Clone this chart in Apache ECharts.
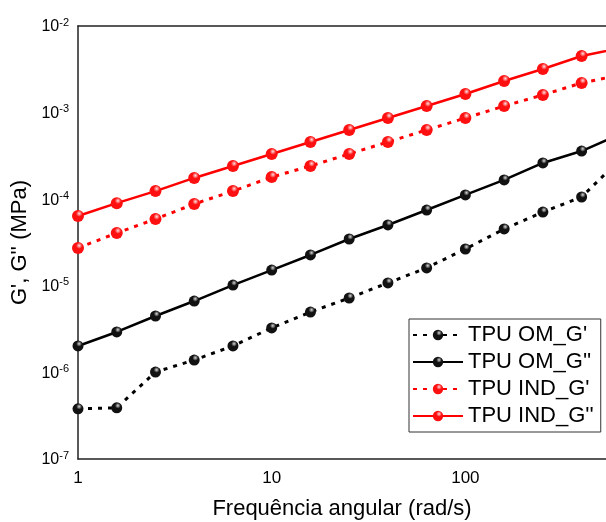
<!DOCTYPE html>
<html>
<head>
<meta charset="utf-8">
<script src="https://cdn.jsdelivr.net/npm/echarts@6/dist/echarts.min.js"></script>
<style>
  html, body { margin: 0; padding: 0; background: #fff; }
  #main { width: 606px; height: 522px; }
</style>
</head>
<body>
<div id="main"></div>
<script>
// frequência angular (rad/s)
var freq = [1, 1.585, 2.512, 3.981, 6.31, 10, 15.85, 25.12, 39.81, 63.1, 100, 158.5, 251.2, 398.1, 631];

// módulos (MPa)
var omG1 = [3.8e-7, 3.9e-7, 1.01e-6, 1.39e-6, 2.02e-6, 3.26e-6, 4.98e-6, 7.23e-6, 1.08e-5, 1.61e-5, 2.66e-5, 4.53e-5, 7.1e-5, 1.06e-4, 2.9e-4];
var omG2 = [2.02e-6, 2.93e-6, 4.48e-6, 6.67e-6, 1.02e-5, 1.52e-5, 2.27e-5, 3.47e-5, 5.04e-5, 7.5e-5, 1.12e-4, 1.67e-4, 2.62e-4, 3.6e-4, 5.66e-4];
var indG1 = [2.73e-5, 4.07e-5, 5.9e-5, 8.8e-5, 1.24e-4, 1.8e-4, 2.42e-4, 3.33e-4, 4.58e-4, 6.3e-4, 8.66e-4, 1.19e-3, 1.6e-3, 2.2e-3, 2.72e-3];
var indG2 = [6.4e-5, 9.0e-5, 1.24e-4, 1.76e-4, 2.42e-4, 3.33e-4, 4.58e-4, 6.3e-4, 8.66e-4, 1.19e-3, 1.64e-3, 2.32e-3, 3.19e-3, 4.5e-3, 5.57e-3];

var seriesNames = ["TPU OM_G'", "TPU OM_G''", "TPU IND_G'", "TPU IND_G''"];

var FONT = 'Liberation Sans, Arial, sans-serif';

function pares(ys) {
    return freq.map(function (x, i) { return [x, ys[i]]; });
}

// bolinhas "3D"
function bola(base, claro) {
    return new echarts.graphic.RadialGradient(0.6, 0.3, 0.75, [
        { offset: 0, color: claro },
        { offset: 0.35, color: base },
        { offset: 1, color: base }
    ]);
}
var bolaPreta = bola('#111', '#d8d8d8');
var bolaVermelha = bola('#ff1010', '#ffe0e0');

function serie(nome, ys, cor, bolaCor, tracejado, tam) {
    return {
        name: nome,
        type: 'line',
        data: pares(ys),
        symbol: 'circle',
        symbolSize: tam,
        showAllSymbol: true,
        clip: true,
        lineStyle: { color: cor, width: tracejado ? 3 : 2.5, type: tracejado ? [4, 6] : 'solid' },
        itemStyle: { color: bolaCor, borderWidth: 0 }
    };
}

var chartDom = document.getElementById('main');
var myChart = echarts.init(chartDom, null, { renderer: 'canvas' });

var option = {
    animation: false,
    backgroundColor: '#fff',
    grid: { left: 78, top: 26, right: 0, bottom: 63, containLabel: false, outerBoundsMode: 'none' },
    legend: {
        orient: 'vertical',
        left: 409,
        top: 319,
        itemWidth: 50,
        itemHeight: 13,
        itemGap: 5,
        padding: [5, 7, 5, 3],
        borderColor: '#333',
        borderWidth: 1,
        backgroundColor: '#fff',
        textStyle: { fontSize: 22, fontFamily: FONT, color: '#000', lineHeight: 22 },
        data: seriesNames
    },
    xAxis: [
        {
            type: 'log',
            logBase: 10,
            min: 1,
            max: 532,
            name: 'Frequência angular (rad/s)',
            nameLocation: 'middle',
            nameGap: 39,
            nameTextStyle: { fontSize: 22, fontFamily: FONT, color: '#000' },
            axisLine: { show: true, lineStyle: { color: '#222', width: 1.5 } },
            axisTick: { show: false },
            splitLine: { show: false },
            axisLabel: {
                margin: 11,
                fontSize: 17,
                fontFamily: FONT,
                color: '#000',
                showMaxLabel: false,
                formatter: function (v) { return String(Math.round(v)); }
            }
        },
        {
            type: 'log',
            logBase: 10,
            min: 1,
            max: 532,
            position: 'top',
            axisLine: { show: true, lineStyle: { color: '#222', width: 1.5 } },
            axisTick: { show: false },
            axisLabel: { show: false },
            splitLine: { show: false }
        }
    ],
    yAxis: {
        type: 'log',
        logBase: 10,
        min: 1e-7,
        max: 1e-2,
        name: "G', G'' (MPa)",
        nameLocation: 'middle',
        nameGap: 43,
        nameTextStyle: { fontSize: 22, fontFamily: FONT, color: '#000' },
        axisLine: { show: true, lineStyle: { color: '#222', width: 1.5 } },
        axisTick: { show: false },
        splitLine: { show: false },
        axisLabel: {
            margin: 9,
            color: '#000',
            fontFamily: FONT,
            formatter: function (v) {
                var e = Math.round(Math.log10(v));
                return '{b|10}{e|' + e + '}';
            },
            rich: {
                b: { fontSize: 16, fontFamily: FONT, color: '#000', verticalAlign: 'bottom' },
                e: { fontSize: 11, fontFamily: FONT, color: '#000', verticalAlign: 'bottom', padding: [0, 0, 7, 0] }
            }
        }
    },
    series: [
        serie(seriesNames[0], omG1, '#000', bolaPreta, true, 11),
        serie(seriesNames[1], omG2, '#000', bolaPreta, false, 11),
        serie(seriesNames[2], indG1, '#ff0000', bolaVermelha, true, 12),
        serie(seriesNames[3], indG2, '#ff0000', bolaVermelha, false, 12)
    ]
};

option && myChart.setOption(option);
</script>
</body>
</html>
